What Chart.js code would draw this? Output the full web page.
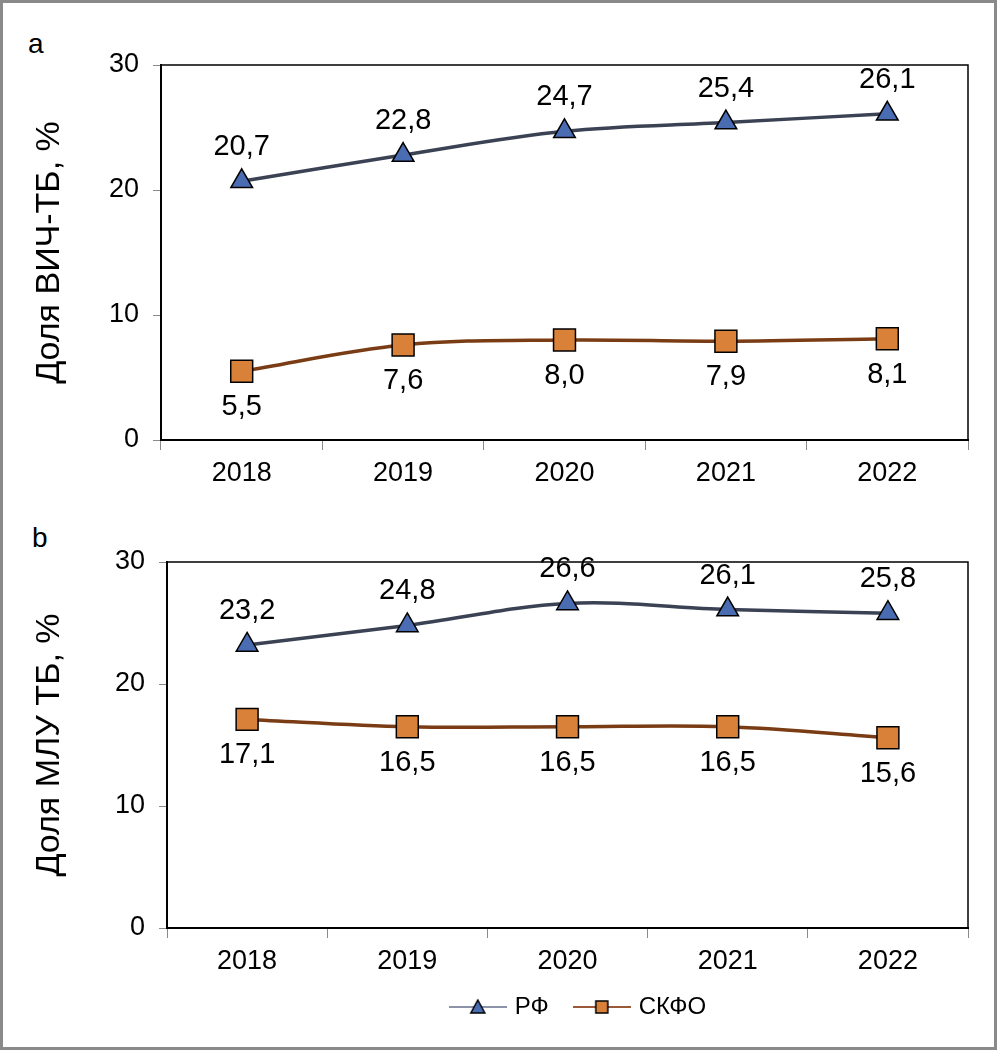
<!DOCTYPE html>
<html>
<head>
<meta charset="utf-8">
<script src="https://cdn.jsdelivr.net/npm/chart.js@4.4.0/dist/chart.umd.min.js"></script>
<style>
  html, body { margin: 0; padding: 0; background: #fff; }
  #page { position: relative; width: 997px; height: 1050px; box-sizing: border-box; border: 3px solid #8a8a8a; overflow: hidden; }
  .wrap { position: absolute; left: -3px; width: 997px; }
  .panel { position: absolute; font: 28px "Liberation Sans", Arial, sans-serif; color: #000; }
</style>
</head>
<body>
<div id="page">
  <div class="panel" style="left:25px; top:25px;">a</div>
  <div class="panel" style="left:29px; top:519px;">b</div>
  <div class="wrap" style="top:-3px; height:500px;"><canvas id="chartA"></canvas></div>
  <div class="wrap" style="top:497px; height:550px;"><canvas id="chartB"></canvas></div>
</div>
<script>
const years = ['2018', '2019', '2020', '2021', '2022'];
const yTicks = [0, 10, 20, 30];

// a: доля ВИЧ-ТБ
const hivRF = [20.7, 22.8, 24.7, 25.4, 26.1];
const hivNC = [5.5, 7.6, 8.0, 7.9, 8.1];

// b: доля МЛУ ТБ
const mdrRF = [23.2, 24.8, 26.6, 26.1, 25.8];
const mdrNC = [17.1, 16.5, 16.5, 16.5, 15.6];

const FONT = '"Liberation Sans", Arial, sans-serif';

function fmt(v) {
    return v.toFixed(1).replace('.', ',');
}

// small icon for legend: line with marker in the middle
function legendIcon(lineColor, kind, fill) {
    const c = document.createElement('canvas');
    c.width = 58;
    c.height = 24;
    const g = c.getContext('2d');
    g.strokeStyle = lineColor;
    g.lineWidth = 2;
    g.beginPath();
    g.moveTo(0, 12);
    g.lineTo(58, 12);
    g.stroke();
    g.fillStyle = fill;
    g.strokeStyle = '#000';
    g.lineWidth = 1.5;
    g.beginPath();
    if (kind === 'triangle') {
        g.moveTo(29, 5);
        g.lineTo(36, 18);
        g.lineTo(22, 18);
        g.closePath();
    } else {
        g.rect(23, 6, 12, 12);
    }
    g.fill();
    g.stroke();
    return c;
}

const valueLabels = {
    id: 'valueLabels',
    afterDatasetsDraw(chart) {
        const ctx = chart.ctx;
        ctx.save();
        ctx.font = '29px ' + FONT;
        ctx.fillStyle = '#000';
        ctx.textAlign = 'center';
        ctx.textBaseline = 'middle';
        chart.data.datasets.forEach(function (ds, i) {
            const meta = chart.getDatasetMeta(i);
            meta.data.forEach(function (pt, j) {
                const dy = ds.labelSide === 'above' ? -34 : 36;
                ctx.fillText(fmt(ds.data[j]), pt.x, pt.y + dy);
            });
        });
        ctx.restore();
    }
};

const plotBox = {
    id: 'plotBox',
    afterLayout(chart) {
        // legend sits a bit right of the plot centre and close under the axis
        if (chart.legend && chart.options.plugins.legend.display) {
            chart.legend.left += 12;
            chart.legend.right += 12;
            chart.legend.top -= 21;
            chart.legend.bottom -= 21;
        }
    },
    beforeDatasetsDraw(chart) {
        const a = chart.chartArea;
        const ctx = chart.ctx;
        ctx.save();
        ctx.strokeStyle = '#000';
        ctx.lineWidth = 1.5;
        ctx.beginPath();
        ctx.moveTo(a.left, a.top);
        ctx.lineTo(a.right, a.top);
        ctx.lineTo(a.right, a.bottom);
        ctx.stroke();
        ctx.restore();
    }
};

function makeChart(id, rf, nc, yTitle, opts) {
    const ctx = document.getElementById(id).getContext('2d');
    return new Chart(ctx, {
        type: 'line',
        data: {
            labels: years,
            datasets: [{
                label: 'РФ',
                data: rf,
                labelSide: 'above',
                borderColor: '#3b4254',
                borderWidth: 3.5,
                tension: 0.35,
                pointStyle: 'triangle',
                pointRadius: 12.5,
                pointBackgroundColor: '#4a6cb3',
                pointBorderColor: '#000',
                pointBorderWidth: 1.5,
                legendIcon: legendIcon('#8d93a8', 'triangle', '#4a6cb3')
            }, {
                label: 'СКФО',
                data: nc,
                labelSide: 'below',
                borderColor: '#7a3c14',
                borderWidth: 3.5,
                tension: 0.35,
                pointStyle: 'rect',
                pointRadius: 15.5,
                pointBackgroundColor: '#d98039',
                pointBorderColor: '#000',
                pointBorderWidth: 1.5,
                legendIcon: legendIcon('#9a5a38', 'rect', '#d98039')
            }]
        },
        options: {
            responsive: true,
            maintainAspectRatio: false,
            animation: false,
            layout: { padding: opts.padding },
            plugins: {
                tooltip: { enabled: false },
                legend: {
                    display: opts.legend,
                    position: 'bottom',
                    fullSize: false,
                    labels: {
                        usePointStyle: true,
                        pointStyleWidth: 50,
                        padding: 28,
                        color: '#000',
                        font: { family: FONT, size: 24 },
                        generateLabels(chart) {
                            return chart.data.datasets.map(function (ds, i) {
                                return {
                                    text: ds.label,
                                    pointStyle: ds.legendIcon,
                                    fillStyle: ds.pointBackgroundColor,
                                    strokeStyle: '#000',
                                    lineWidth: 0,
                                    fontColor: '#000',
                                    datasetIndex: i
                                };
                            });
                        }
                    }
                }
            },
            scales: {
                x: {
                    offset: true,
                    afterFit(scale) { scale.height = 60; },
                    grid: {
                        offset: true,
                        drawOnChartArea: false,
                        drawTicks: true,
                        tickLength: 10,
                        color: '#8a8a8a'
                    },
                    border: { color: '#000', width: 2 },
                    ticks: { color: '#000', padding: 7, font: { family: FONT, size: 27 } }
                },
                y: {
                    min: 0,
                    max: 30,
                    afterFit(scale) { scale.width = opts.yWidth; },
                    afterBuildTicks(scale) {
                        scale.ticks = yTicks.map(function (v) { return { value: v }; });
                    },
                    grid: {
                        drawOnChartArea: false,
                        drawTicks: true,
                        tickLength: 8,
                        color: '#8a8a8a'
                    },
                    border: { color: '#000', width: 2 },
                    ticks: { color: '#000', padding: 14, font: { family: FONT, size: 27 } },
                    title: {
                        display: true,
                        text: yTitle,
                        color: '#000',
                        padding: { top: opts.titleOffset, bottom: 0 },
                        font: { family: FONT, size: 34 }
                    }
                }
            }
        },
        plugins: [plotBox, valueLabels]
    });
}

makeChart('chartA', hivRF, hivNC, 'Доля ВИЧ-ТБ, %', {
    yWidth: 161,
    titleOffset: 29,
    legend: false,
    padding: { top: 65, right: 29, bottom: 0, left: 0 }
});

makeChart('chartB', mdrRF, mdrNC, 'Доля МЛУ ТБ, %', {
    yWidth: 167,
    titleOffset: 29,
    legend: true,
    padding: { top: 62, right: 29, bottom: 0, left: 0 }
});
</script>
</body>
</html>
